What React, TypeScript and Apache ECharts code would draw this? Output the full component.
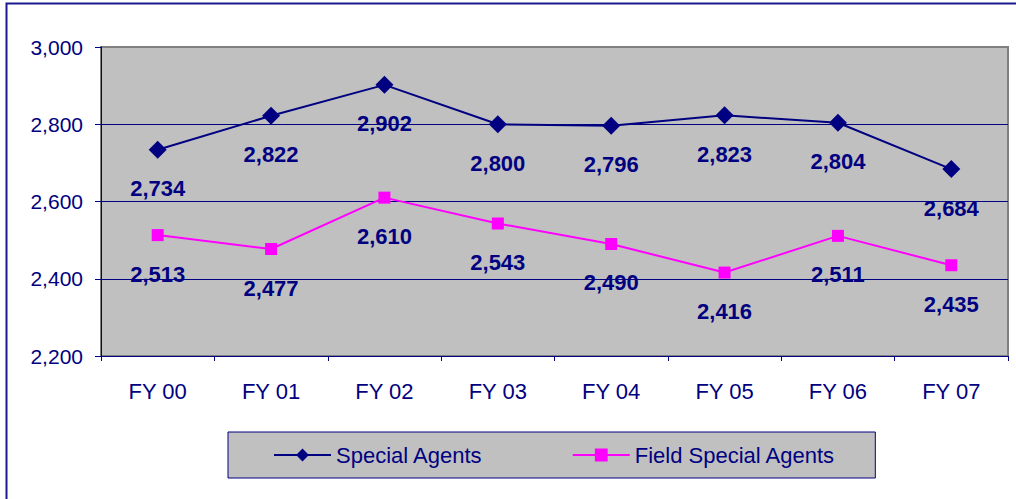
import React, { useEffect, useRef } from "react";
import * as echarts from "echarts";

const categories = ["FY 00", "FY 01", "FY 02", "FY 03", "FY 04", "FY 05", "FY 06", "FY 07"];
const specialAgents = [2734, 2822, 2902, 2800, 2796, 2823, 2804, 2684];
const fieldSpecialAgents = [2513, 2477, 2610, 2543, 2490, 2416, 2511, 2435];
const yTicks = { min: 2200, max: 3000, interval: 200 };

const NAVY = "#000080";
const MAGENTA = "#FF00FF";
const FONT = "Arial, 'Liberation Sans', sans-serif";

export default function App() {
  const ref = useRef<HTMLDivElement>(null);
  useEffect(() => {
    if (!ref.current) return;
    const chart = echarts.init(ref.current, null, { renderer: "svg" });
    const fmt = (v: number) => v.toLocaleString("en-US");
    chart.setOption({
      animation: false,
      backgroundColor: "#FFFFFF",
      textStyle: { fontFamily: FONT },
      graphic: [
        {
          type: "rect",
          shape: { x: 6.5, y: 3.5, width: 1030, height: 520 },
          style: { fill: "none", stroke: "#1a1a8f", lineWidth: 2 },
          silent: true,
          z: -1,
        },
      ],
      grid: {
        left: 101,
        top: 47,
        right: 8,
        bottom: 143,
        show: true,
        backgroundColor: "#C0C0C0",
        borderColor: "#808080",
        borderWidth: 2,
      },
      legend: {
        left: 228,
        top: 432,
        backgroundColor: "#C0C0C0",
        borderColor: NAVY,
        borderWidth: 1,
        padding: [12, 40, 12, 45],
        itemWidth: 57,
        itemHeight: 16,
        itemGap: 89,
        textStyle: { color: NAVY, fontSize: 22, fontFamily: FONT },
        data: ["Special Agents", "Field Special Agents"],
      },
      xAxis: {
        type: "category",
        data: categories,
        boundaryGap: true,
        axisLine: { show: true, lineStyle: { color: NAVY, width: 1 } },
        axisTick: { show: true, alignWithLabel: false, length: 5, lineStyle: { color: NAVY } },
        axisLabel: { color: NAVY, fontSize: 22, margin: 24, fontFamily: FONT },
        splitLine: { show: false },
      },
      yAxis: {
        type: "value",
        min: yTicks.min,
        max: yTicks.max,
        interval: yTicks.interval,
        axisLine: { show: true, lineStyle: { color: NAVY, width: 1 } },
        axisTick: { show: true, length: 6, lineStyle: { color: NAVY } },
        axisLabel: {
          color: NAVY,
          fontSize: 21,
          margin: 18,
          fontFamily: FONT,
          formatter: (v: number) => fmt(v),
        },
        splitLine: {
          show: true,
          showMinLine: false,
          showMaxLine: false,
          lineStyle: { color: NAVY, width: 1 },
        },
      },
      series: [
        {
          name: "Special Agents",
          type: "line",
          data: specialAgents,
          symbol: "diamond",
          symbolSize: 18,
          itemStyle: { color: NAVY },
          lineStyle: { color: NAVY, width: 2 },
          label: {
            show: true,
            position: "bottom",
            distance: 19,
            color: NAVY,
            fontSize: 22,
            fontWeight: "bold",
            fontFamily: FONT,
            formatter: (p: any) => fmt(p.value),
          },
        },
        {
          name: "Field Special Agents",
          type: "line",
          data: fieldSpecialAgents,
          symbol: "rect",
          symbolSize: 12,
          itemStyle: { color: MAGENTA },
          lineStyle: { color: MAGENTA, width: 2 },
          label: {
            show: true,
            position: "bottom",
            distance: 22,
            color: NAVY,
            fontSize: 22,
            fontWeight: "bold",
            fontFamily: FONT,
            formatter: (p: any) => fmt(p.value),
          },
        },
      ],
    });
    return () => chart.dispose();
  }, []);
  return (
    <div
      ref={ref}
      style={{ position: "fixed", left: 0, top: 0, width: 1016, height: 499 }}
    />
  );
}
